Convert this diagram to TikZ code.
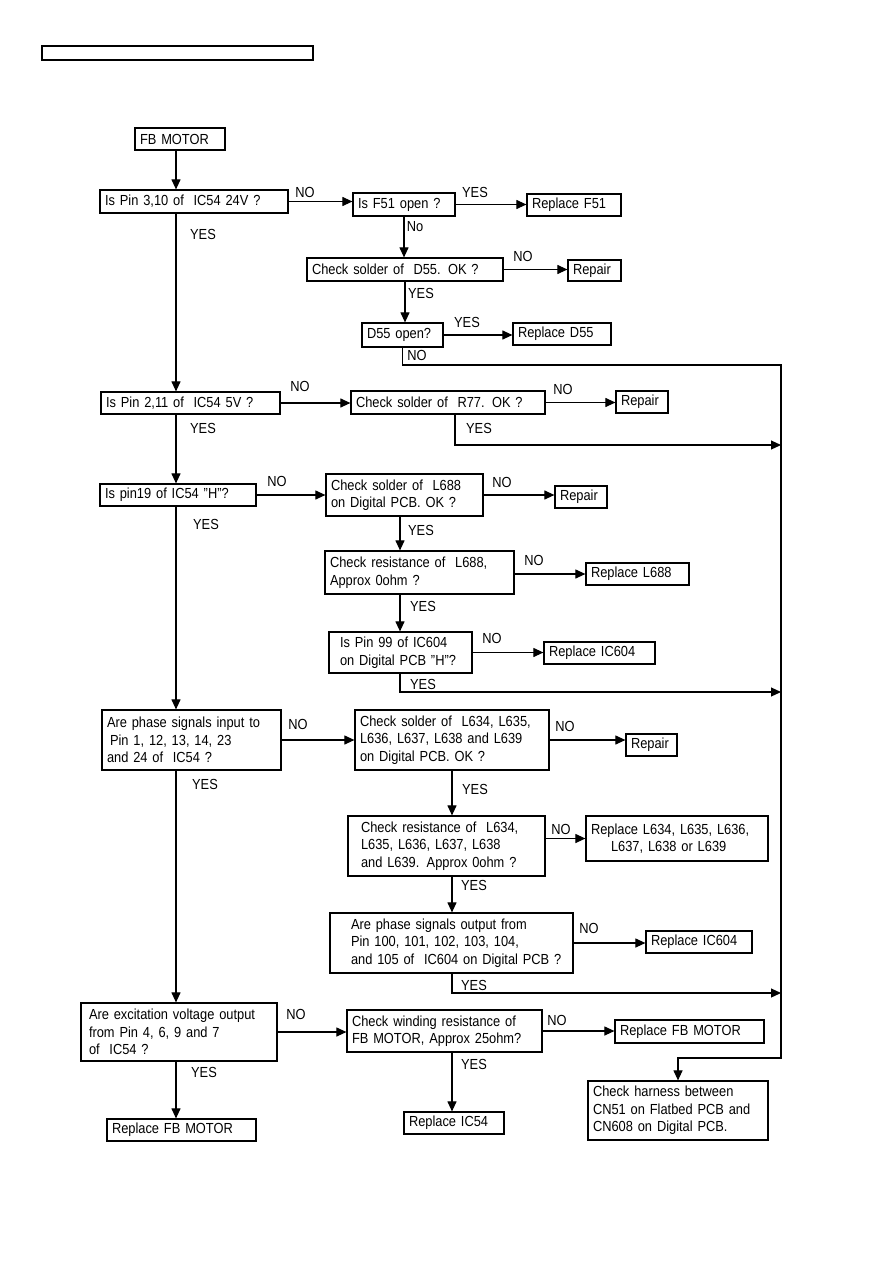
\documentclass[tikz,border=0pt]{standalone}
\usepackage{fontspec}
\setmainfont{Liberation Sans}[FakeStretch=0.88]
\usetikzlibrary{arrows.meta}
\begin{document}
\begin{tikzpicture}[x=1pt,y=-1pt,
  every node/.style={font=\fontsize{14.6}{17.5}\selectfont},
  box/.style={draw, line width=1.2pt, inner xsep=5pt, inner ysep=0pt, align=left},
  B/.style 2 args={box, text width=#1, minimum height=#2},
  lbl/.style={inner sep=0pt},
  arr/.style={line width=1.1pt, -{Triangle[length=10pt,width=9pt]}},
  ln/.style={line width=1.1pt}]
\useasboundingbox (0,0) rectangle (893,1263);
\node[draw, line width=1.3pt, minimum width=271pt, minimum height=14pt, inner sep=0pt] (hdr) at (177.5,53) {};
% named coordinates
\coordinate (spine) at (176,0);
\coordinate (xa) at (400,0);
\coordinate (xb) at (452,0);
\coordinate (rtop) at (781,365);
\coordinate (rbot) at (781,1058);
\coordinate (y77) at (455,445);
\coordinate (y99) at (400,692);
\coordinate (y105) at (452,993);
% boxes
\node[B={80pt}{22pt}] (fb) at (180,139) {FB MOTOR};
\node[B={178pt}{23pt}] (q1) at (194,201.5) {Is Pin 3,10 of~ IC54 24V ?};
\node[B={92pt}{23pt}] (f51) at (404,204.5) {Is F51 open ?};
\node[B={84pt}{22pt}] (rf51) at (574,205) {Replace F51};
\node[B={186pt}{23pt}] (d55s) at (405,269.5) {Check solder of~ D55. OK ?};
\node[B={43pt}{21pt}] (rep1) at (594.5,270.5) {Repair};
\node[B={71pt}{24pt}] (d55o) at (402.5,335) {D55 open?};
\node[B={88pt}{22pt}] (rd55) at (562,334) {Replace D55};
\node[B={169pt}{22pt}] (q2) at (190.5,403) {Is Pin 2,11 of~ IC54 5V ?};
\node[B={184pt}{23pt}] (r77) at (448,402.5) {Check solder of~ R77. OK ?};
\node[B={42pt}{22pt}] (rep2) at (642,402) {Repair};
\node[B={146pt}{22pt}] (q3) at (178,495) {Is pin19 of IC54 "H"?};
\node[B={147pt}{42pt}] (l688s) at (404.5,495) {Check solder of~ L688\\on Digital PCB. OK ?};
\node[B={42pt}{22pt}] (rep3) at (581,497) {Repair};
\node[B={179pt}{43pt}] (l688r) at (419.5,572.5) {Check resistance of~ L688,\\Approx 0ohm ?};
\node[B={93pt}{22pt}] (rl688) at (637.5,574) {Replace L688};
\node[B={133pt}{41pt}] (p99) at (400.5,652.5) {\hspace{6pt}Is Pin 99 of IC604\\\hspace{6pt}on Digital PCB "H"?};
\node[B={101pt}{22pt}] (ric1) at (599.5,653) {Replace IC604};
\node[B={169pt}{60pt}] (q4) at (191.5,740) {Are phase signals input to\\\hspace{3pt}Pin 1, 12, 13, 14, 23\\and 24 of~ IC54 ?};
\node[B={184pt}{60pt}] (l63s) at (452,740) {Check solder of~ L634, L635,\\L636, L637, L638 and L639\\on Digital PCB. OK ?};
\node[B={41pt}{22pt}] (rep4) at (651.5,745) {Repair};
\node[B={187pt}{60pt}] (l63r) at (446.5,846) {\hspace{8pt}Check resistance of~ L634,\\\hspace{8pt}L635, L636, L637, L638\\\hspace{8pt}and L639. Approx 0ohm ?};
\node[B={172pt}{45pt}] (rl63) at (677,838.5) {Replace L634, L635, L636,\\\hspace{20pt}L637, L638 or L639};
\node[B={233pt}{60pt}] (q5out) at (451.5,943) {\hspace{16pt}Are phase signals output from\\\hspace{16pt}Pin 100, 101, 102, 103, 104,\\\hspace{16pt}and 105 of~ IC604 on Digital PCB ?};
\node[B={96pt}{22pt}] (ric2) at (699,942) {Replace IC604};
\node[B={186pt}{58pt}] (q5) at (179,1032) {\hspace{3pt}Are excitation voltage output\\\hspace{3pt}from Pin 4, 6, 9 and 7\\\hspace{3pt}of~ IC54 ?};
\node[B={185pt}{42pt}] (wind) at (444.5,1031) {Check winding resistance of\\FB MOTOR, Approx 25ohm?};
\node[B={139pt}{23pt}] (rfb1) at (689.5,1031.5) {Replace FB MOTOR};
\node[B={90pt}{22pt}] (ric54) at (454,1123) {Replace IC54};
\node[B={139pt}{22pt}] (rfb2) at (181.5,1130) {Replace FB MOTOR};
\node[B={170pt}{59pt}] (harn) at (678,1110.5) {Check harness between\\CN51 on Flatbed PCB and\\CN608 on Digital PCB.};
% labels
\node[lbl] (n1) at (305,192) {NO};
\node[lbl] (n2) at (475,192) {YES};
\node[lbl] (n3) at (203,234) {YES};
\node[lbl] (n4) at (415,227) {No};
\node[lbl] (n5) at (523,256) {NO};
\node[lbl] (n6) at (421,293) {YES};
\node[lbl] (n7) at (467,322) {YES};
\node[lbl] (n8) at (417,355) {NO};
\node[lbl] (n9) at (300,386) {NO};
\node[lbl] (n10) at (563,389) {NO};
\node[lbl] (n11) at (479,428) {YES};
\node[lbl] (n12) at (203,428) {YES};
\node[lbl] (n13) at (277,481) {NO};
\node[lbl] (n14) at (502,482) {NO};
\node[lbl] (n15) at (421,530) {YES};
\node[lbl] (n16) at (534,560) {NO};
\node[lbl] (n17) at (423,606) {YES};
\node[lbl] (n18) at (492,638) {NO};
\node[lbl] (n19) at (423,684) {YES};
\node[lbl] (n20) at (206,524) {YES};
\node[lbl] (n21) at (298,724) {NO};
\node[lbl] (n22) at (565,726) {NO};
\node[lbl] (n23) at (475,789) {YES};
\node[lbl] (n24) at (561,829) {NO};
\node[lbl] (n25) at (474,885) {YES};
\node[lbl] (n26) at (589,928) {NO};
\node[lbl] (n27) at (474,985) {YES};
\node[lbl] (n28) at (205,784) {YES};
\node[lbl] (n29) at (296,1014) {NO};
\node[lbl] (n30) at (557,1020) {NO};
\node[lbl] (n31) at (474,1064) {YES};
\node[lbl] (n32) at (204,1072) {YES};
% spine
\draw[arr] (spine |- fb.south) -- (spine |- q1.north);
\draw[arr] (spine |- q1.south) -- (spine |- q2.north);
\draw[arr] (spine |- q2.south) -- (spine |- q3.north);
\draw[arr] (spine |- q3.south) -- (spine |- q4.north);
\draw[arr] (spine |- q4.south) -- (spine |- q5.north);
\draw[arr] (spine |- q5.south) -- (spine |- rfb2.north);
% top branch
\draw[arr] (q1.east) -- (q1.east -| f51.west);
\draw[arr] (f51.east) -- (f51.east -| rf51.west);
\draw[arr] (f51.south) -- (f51.south |- d55s.north);
\draw[arr] (d55s.east) -- (d55s.east -| rep1.west);
\draw[arr] (d55s.south) -- (d55s.south |- d55o.north);
\draw[arr] (d55o.east) -- (d55o.east -| rd55.west);
\draw[arr] (d55o.south) -- (d55o.south |- rtop) -- (rtop) -- (rbot) -- (harn.north |- rbot) -- (harn.north);
% second
\draw[arr] (q2.east) -- (q2.east -| r77.west);
\draw[arr] (r77.east) -- (r77.east -| rep2.west);
\draw[arr] (y77 |- r77.south) -- (y77) -- (y77 -| rtop);
% third
\draw[arr] (q3.east) -- (q3.east -| l688s.west);
\draw[arr] (l688s.east) -- (l688s.east -| rep3.west);
\draw[arr] (xa |- l688s.south) -- (xa |- l688r.north);
\draw[arr] (l688r.east |- rl688.west) -- (rl688.west);
\draw[arr] (xa |- l688r.south) -- (xa |- p99.north);
\draw[arr] (p99.east) -- (p99.east -| ric1.west);
\draw[arr] (xa |- p99.south) -- (y99) -- (y99 -| rtop);
% fourth
\draw[arr] (q4.east) -- (q4.east -| l63s.west);
\draw[arr] (l63s.east) -- (l63s.east -| rep4.west);
\draw[arr] (xb |- l63s.south) -- (xb |- l63r.north);
\draw[arr] (l63r.east |- rl63.west) -- (rl63.west);
\draw[arr] (xb |- l63r.south) -- (xb |- q5out.north);
\draw[arr] (q5out.east) -- (q5out.east -| ric2.west);
\draw[arr] (xb |- q5out.south) -- (y105) -- (y105 -| rtop);
% fifth
\draw[arr] (q5.east) -- (q5.east -| wind.west);
\draw[arr] (wind.east) -- (wind.east -| rfb1.west);
\draw[arr] (xb |- wind.south) -- (xb |- ric54.north);
\end{tikzpicture}
\end{document}
